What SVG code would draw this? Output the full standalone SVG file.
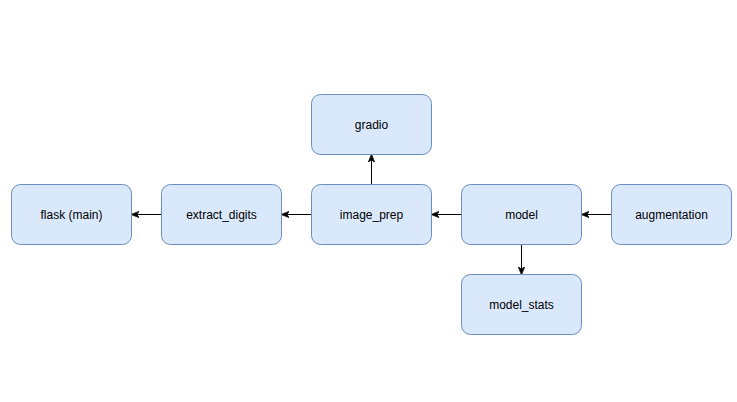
<svg xmlns="http://www.w3.org/2000/svg" width="737" height="402" viewBox="0 0 737 402">
<style>
.n rect{fill:#dae8fc;stroke:#6c8ebf;stroke-width:1}
.n text{font-family:"Liberation Sans",Arial,sans-serif;font-size:12px;fill:#000;text-anchor:middle;dominant-baseline:central}
.e path{fill:none;stroke:#000;stroke-width:1;marker-end:url(#a)}
</style>
<defs>
<marker id="a" viewBox="0 0 10 10" refX="9" refY="5" markerWidth="8" markerHeight="8" markerUnits="userSpaceOnUse" orient="auto">
<path d="M0,1 L10,5 L0,9 L3,5 Z" fill="#000" stroke="#000" stroke-width="1"/>
</marker>
</defs>
<rect width="737" height="402" fill="#fff"/>
<g id="connectors" class="e">
<path d="M161.5,214.5 H132"/>
<path d="M311.5,214.5 H282"/>
<path d="M461.5,214.5 H432"/>
<path d="M611.5,214.5 H582"/>
<path d="M371.5,184.5 V155"/>
<path d="M521.5,244.5 V274"/>
</g>
<g id="flask" class="n"><rect x="11.5" y="184.5" width="120" height="60" rx="9"/><text x="71.5" y="214.5">flask (main)</text></g>
<g id="extract_digits" class="n"><rect x="161.5" y="184.5" width="120" height="60" rx="9"/><text x="221.5" y="214.5">extract_digits</text></g>
<g id="image_prep" class="n"><rect x="311.5" y="184.5" width="120" height="60" rx="9"/><text x="371.5" y="214.5">image_prep</text></g>
<g id="model" class="n"><rect x="461.5" y="184.5" width="120" height="60" rx="9"/><text x="521.5" y="214.5">model</text></g>
<g id="augmentation" class="n"><rect x="611.5" y="184.5" width="120" height="60" rx="9"/><text x="671.5" y="214.5">augmentation</text></g>
<g id="gradio" class="n"><rect x="311.5" y="94.5" width="120" height="60" rx="9"/><text x="371.5" y="124.5">gradio</text></g>
<g id="model_stats" class="n"><rect x="461.5" y="274.5" width="120" height="60" rx="9"/><text x="521.5" y="304.5">model_stats</text></g>
</svg>
